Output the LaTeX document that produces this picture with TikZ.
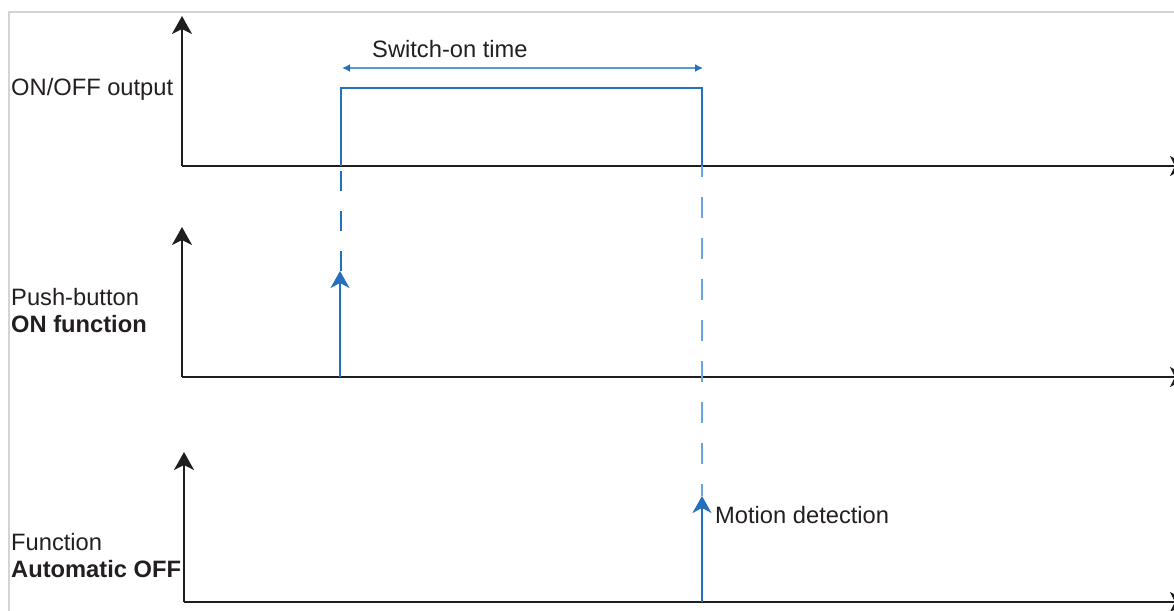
\documentclass[tikz,border=0pt]{standalone}
\usepackage{fontspec}
\setmainfont{Liberation Sans}
\usetikzlibrary{arrows.meta}
\definecolor{txt}{HTML}{231F20}
\definecolor{axc}{HTML}{1E1E1E}
\definecolor{bl}{RGB}{36,112,188}
\definecolor{lbl}{RGB}{105,166,220}
\definecolor{frame}{HTML}{D4D4D4}
\begin{document}
\begin{tikzpicture}[x=1pt,y=-1pt,
  axis/.style={draw=axc,line width=2.5pt,-{Stealth[length=18pt,width=20pt,inset=5pt]}},
  sig/.style={draw=bl,line width=2.4pt},
  sigarrow/.style={draw=bl,line width=2.4pt,-{Stealth[length=17pt,width=19pt,inset=5pt]}},
  darkdash/.style={draw=bl,line width=1.4pt,dash pattern=on 20pt off 20pt},
  lightdash/.style={draw=lbl,line width=1.8pt,dash pattern=on 20.5pt off 20.5pt,dash phase=10pt},
  span/.style={draw=lbl!80!bl,line width=1.6pt,{Latex[length=8pt,width=8pt,color=bl]}-{Latex[length=8pt,width=8pt,color=bl]}},
  lab/.style={anchor=base west,inner sep=0pt,text=txt,font=\fontsize{23.7}{28}\selectfont}
]
\useasboundingbox (0,0) rectangle (1174,610);
\draw[frame,line width=2pt] (9,620) -- (9,12) -- (1190,12);

% coordinates
\coordinate (o1) at (182,166);
\coordinate (t1) at (182,16);
\coordinate (e1) at (1188,166);
\coordinate (o2) at (182,377);
\coordinate (t2) at (182,227);
\coordinate (e2) at (1188,377);
\coordinate (o3) at (184,602);
\coordinate (t3) at (184,452);
\coordinate (e3) at (1188,602);

\coordinate (p0) at (341,166);
\coordinate (p1) at (341,88);
\coordinate (p2) at (702,88);
\coordinate (p3) at (702,166);
\coordinate (sa) at (342,68);
\coordinate (sb) at (703,68);
\coordinate (b0) at (340,377);
\coordinate (b1) at (340,271);
\coordinate (d1) at (341,271);
\coordinate (m0) at (702,602);
\coordinate (m1) at (702,496);

% axes
\draw[axis] (o1) -- (t1);
\draw[axis] (o1) -- (e1);
\draw[axis] (o2) -- (t2);
\draw[axis] (o2) -- (e2);
\draw[axis] (o3) -- (t3);
\draw[axis] (o3) -- (e3);

% dashed guide lines
\draw[darkdash] (d1) -- (p0);
\draw[lightdash] (p3) -- (m1);

% output pulse
\draw[sig,line join=miter] (p0) -- (p1) -- (p2) -- (p3);
\draw[span] (sa) -- (sb);

% events
\draw[sigarrow] (b0) -- (b1);
\draw[sigarrow] (m0) -- (m1);

% labels
\node[lab] (l1) at (11,95) {ON/OFF output};
\node[lab] (l2) at (372,58) {Switch-on time};
\node[lab] (l3) at (11,305) {Push-button};
\node[lab] (l4) at (11,332) {\textbf{ON function}};
\node[lab] (l5) at (11,550) {Function};
\node[lab] (l6) at (11,577) {\textbf{Automatic OFF}};
\node[lab] (l7) at (715,523) {Motion detection};
\end{tikzpicture}
\end{document}
